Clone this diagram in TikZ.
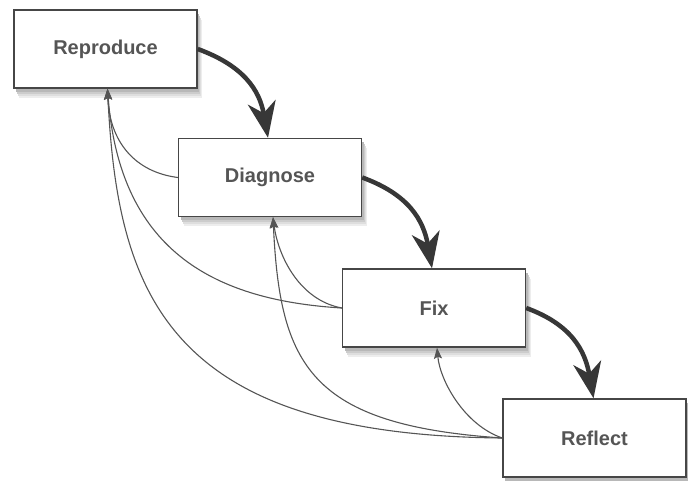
\documentclass[tikz,border=0pt]{standalone}
\usepackage{fontspec}
\setmainfont{Liberation Sans}
\usepackage{xcolor}
\usepackage{tikz}
\usetikzlibrary{arrows.meta}
\definecolor{cBox}{RGB}{70,70,70}
\definecolor{cText}{RGB}{85,85,85}
\definecolor{cMain}{RGB}{55,55,55}
\definecolor{cBack}{RGB}{85,85,85}

\begin{document}
\begin{tikzpicture}[x=1pt, y=1pt,
  stage/.style={draw=cBox, line width=1.4pt, fill=white, minimum width=183pt, minimum height=78pt,
    font=\fontsize{20}{24}\selectfont\bfseries, text=cText},
  boxshadow/.style={fill=black!#1, draw=none},
  flow/.style={draw=cMain, line width=4.5pt, -{Stealth[length=36pt, width=28pt, inset=11pt]}},
  back/.style={draw=cBack, line width=1.1pt, -{Stealth[length=11pt, width=8pt, inset=2pt]}}]
  \useasboundingbox (0,0) rectangle (688,-481);
  % soft shadows first, under the boxes
  \foreach \cx/\cy in {105.5/-49, 270/-177.5, 434/-308, 594.5/-438}
    \foreach \dx/\dy/\k in {5/-10/7, 4/-8/13, 3/-6/20, 2/-4/28}
      \path[boxshadow=\k] ({\cx-91.5+\dx},{\cy-39+\dy}) rectangle ({\cx+91.5+\dx},{\cy+39+\dy});
  % the four stages
  \node[stage] (repro) at (105.5,-49) {Reproduce};
  \node[stage] (diag) at (270,-177.5) {Diagnose};
  \node[stage] (fix) at (434,-308) {Fix};
  \node[stage] (refl) at (594.5,-438) {Reflect};
  % feedback loops
  \draw[back] (diag.west) .. controls +(-43,5.5) and +(2,-53) .. ([xshift=2pt]repro.south);
  \draw[back] (fix.west) .. controls +(-133,8) and +(12,-158) .. ([xshift=2pt]repro.south);
  \draw[back] (fix.west) .. controls +(-43,8) and +(5,-38) .. ([xshift=3pt]diag.south);
  \draw[back] (refl.west) .. controls +(-333,3) and +(10,-208) .. ([xshift=2pt]repro.south);
  \draw[back] (refl.west) .. controls +(-193,13) and +(7,-148) .. ([xshift=3pt]diag.south);
  \draw[back] (refl.west) .. controls +(-38,13) and +(3,-33) .. ([xshift=3pt]fix.south);
  % main flow
  \draw[flow] (repro.east) to[out=-20, in=100, looseness=1.1] ([xshift=-2pt]diag.north);
  \draw[flow] (diag.east) to[out=-20, in=100, looseness=1.1] ([xshift=-2pt]fix.north);
  \draw[flow] (fix.east) to[out=-20, in=100, looseness=1.1] ([xshift=-1pt]refl.north);
\end{tikzpicture}
\end{document}
